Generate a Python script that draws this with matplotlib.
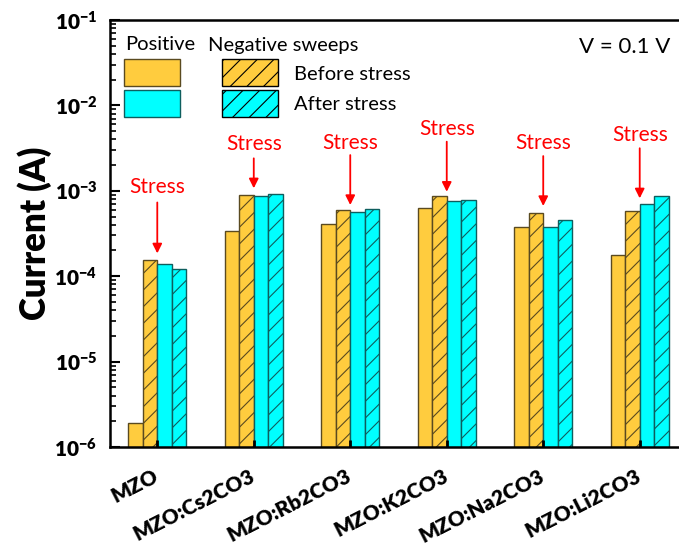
import numpy as np
import matplotlib
matplotlib.use("Agg")
import matplotlib.pyplot as plt
from matplotlib.patches import Rectangle

plt.rcParams['font.family'] = ['Lato', 'DejaVu Sans']
plt.rcParams['hatch.linewidth'] = 0.8

# data (A)
samples = ['MZO', 'MZO:Cs2CO3', 'MZO:Rb2CO3', 'MZO:K2CO3', 'MZO:Na2CO3', 'MZO:Li2CO3']
pos_before = [1.89e-6, 3.41e-4, 4.05e-4, 6.3e-4, 3.73e-4, 1.75e-4]
neg_before = [1.55e-4, 9.0e-4, 5.9e-4, 8.7e-4, 5.5e-4, 5.75e-4]
pos_after = [1.39e-4, 8.7e-4, 5.6e-4, 7.6e-4, 3.8e-4, 7.0e-4]
neg_after = [1.23e-4, 9.1e-4, 6.2e-4, 7.7e-4, 4.5e-4, 8.8e-4]

# "Stress" annotations: label height, arrow start, arrow tip (A)
stress_text = [1.12e-3, 3.53e-3, 3.66e-3, 5.25e-3, 3.60e-3, 4.50e-3]
arrow_start = [7.3e-4, 2.40e-3, 2.62e-3, 3.76e-3, 2.55e-3, 3.15e-3]
arrow_tip = [1.85e-4, 1.07e-3, 6.82e-4, 9.75e-4, 6.64e-4, 8.16e-4]

yellow = '#FFCC3E'
cyan = '#00FFFF'
yedge = '#5A4A20'
cedge = '#0E5E5E'

W, H = 679, 548
fig = plt.figure(figsize=(W / 100, H / 100), dpi=100)
ax = fig.add_axes([110 / W, 1 - 447 / H, 577 / W, 427 / H])

x = np.arange(len(samples))
w = 0.15
ax.bar(x - 1.5 * w, pos_before, w, color=yellow, edgecolor=yedge, linewidth=1)
ax.bar(x - 0.5 * w, neg_before, w, color=yellow, edgecolor=yedge, linewidth=1, hatch='//')
ax.bar(x + 0.5 * w, pos_after, w, color=cyan, edgecolor=cedge, linewidth=1)
ax.bar(x + 1.5 * w, neg_after, w, color=cyan, edgecolor=cedge, linewidth=1, hatch='//')

ax.set_yscale('log')
ax.set_ylim(1e-6, 1e-1)
ax.set_xlim(-0.49, len(samples) - 1 + 0.49)

for i in range(len(samples)):
    ax.text(i, stress_text[i], 'Stress', color='red', fontsize=15, ha='center', va='center')
    ax.annotate('', xy=(i, arrow_tip[i]), xytext=(i, arrow_start[i]),
                arrowprops=dict(arrowstyle='-|>', color='red', lw=1.3,
                                shrinkA=0, shrinkB=0, mutation_scale=14))

for s in ax.spines.values():
    s.set_linewidth(1.8)
ax.tick_params(axis='y', which='major', direction='in', length=7, width=1.5,
               labelsize=15, pad=9)
ax.tick_params(axis='y', which='minor', direction='in', length=4, width=1.2)
ax.tick_params(axis='x', direction='in', length=5, width=2)
ax.set_xticks(x)
ax.set_xticklabels([])
for lab in ax.get_yticklabels():
    lab.set_fontweight('heavy')

ax.set_ylabel('Current (A)', fontsize=25, fontweight='heavy', labelpad=2)

# category labels, rotated, right end sitting under each tick
for i, name in enumerate(samples):
    ax.annotate(name, xy=(i, 0), xycoords=('data', 'axes fraction'),
                xytext=(2, -24), textcoords='offset points',
                rotation=27, ha='right', va='baseline', rotation_mode='anchor',
                fontsize=15, fontweight='heavy')

# legend built by hand
def rect(px, py, pw, ph, fc, ec, hatch=None):
    r = Rectangle((px / W, 1 - (py + ph) / H), pw / W, ph / H, transform=fig.transFigure,
                  facecolor=fc, edgecolor=ec, linewidth=1, hatch=hatch)
    fig.add_artist(r)

rect(124, 59, 56, 27, yellow, yedge)
rect(222, 59, 56, 27, yellow, 'black', '//')
rect(124, 90, 56, 27, cyan, cedge)
rect(222, 90, 56, 27, cyan, 'black', '//')
fig.text(125 / W, 1 - 45 / H, 'Positive', fontsize=14.5, va='center', ha='left')
fig.text(208 / W, 1 - 45 / H, 'Negative sweeps', fontsize=14.5, va='center', ha='left')
fig.text(294 / W, 1 - 74 / H, 'Before stress', fontsize=14.5, va='center', ha='left')
fig.text(294 / W, 1 - 104 / H, 'After stress', fontsize=14.5, va='center', ha='left')
fig.text(670 / W, 1 - 47 / H, 'V = 0.1 V', fontsize=16, va='center', ha='right')

fig.savefig('out.png', dpi=100)
